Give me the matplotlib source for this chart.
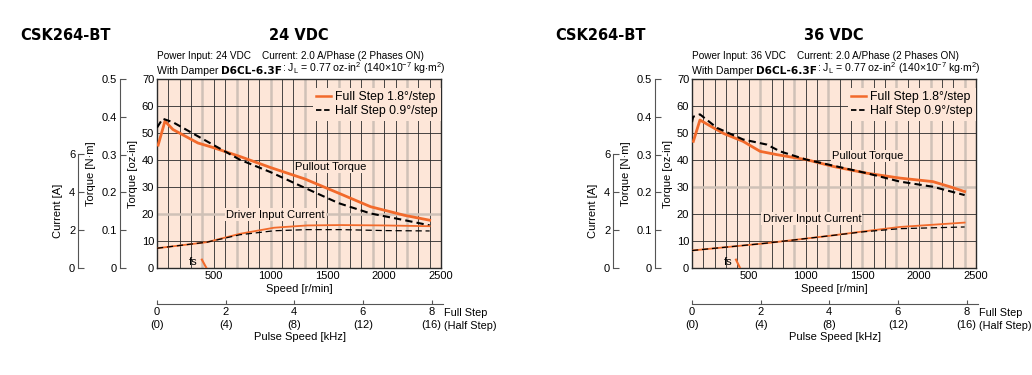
import numpy as np
import matplotlib
matplotlib.use('Agg')
import matplotlib.pyplot as plt
from matplotlib.lines import Line2D

plt.rcParams['font.family'] = ['Liberation Sans', 'DejaVu Sans']
plt.rcParams['mathtext.fontset'] = 'custom'
plt.rcParams['mathtext.rm'] = 'Liberation Sans'
plt.rcParams['font.size'] = 8

W, H = 1032, 375
ORANGE = '#f26a2b'
PEACH = '#fde6d8'
AXGREY = '#555555'
FS = 8  # base text size
PT = 0.72  # points per pixel at dpi 100

# ---- data ----
# 24 VDC, pullout torque [oz-in]
speed_full_24 = [10, 70, 140, 360, 480, 730, 1000, 1300, 1600, 1880, 2180, 2400]
torque_full_24 = [45.5, 54.4, 51.3, 46.3, 44.8, 41.3, 37.2, 33.0, 27.7, 22.7, 19.5, 17.7]
speed_half_24 = [0, 50, 140, 440, 730, 1000, 1300, 1600, 1880, 2180, 2400]
torque_half_24 = [52.0, 55.3, 54.0, 46.9, 40.1, 35.5, 29.7, 24.0, 20.2, 17.7, 15.8]
# 24 VDC, driver input current [A]
cur_speed_24 = [0, 440, 730, 1030, 1320, 1620, 2000, 2400]
cur_full_24 = [1.04, 1.36, 1.80, 2.12, 2.24, 2.26, 2.24, 2.20]
cur_half_24 = [1.04, 1.36, 1.75, 1.96, 2.02, 2.02, 1.97, 1.95]

# 36 VDC, pullout torque [oz-in]
speed_full_36 = [12, 70, 190, 280, 450, 600, 745, 1010, 1245, 1540, 1830, 2120, 2270, 2400]
torque_full_36 = [46.9, 54.8, 51.9, 49.8, 46.9, 43.2, 42.0, 40.1, 37.6, 35.1, 33.3, 32.0, 30.1, 28.3]
speed_half_36 = [0, 10, 70, 220, 450, 660, 775, 1010, 1540, 1830, 2120, 2400]
torque_half_36 = [54.0, 56.0, 56.9, 51.9, 47.6, 45.7, 43.2, 40.1, 35.1, 32.0, 30.1, 27.0]
# 36 VDC, driver input current [A]
cur_speed_36 = [0, 660, 1245, 1500, 1830, 2400]
cur_full_36 = [0.92, 1.31, 1.72, 1.92, 2.16, 2.39]
cur_half_36 = [0.92, 1.31, 1.72, 1.90, 2.07, 2.16]

# max starting frequency stub (fs)
fs_speed_24 = [395, 435]
fs_speed_36 = [387, 423]
fs_torque = [3.1, 0]

speed_ticks = [500, 1000, 1500, 2000, 2500]
torque_ticks = [0, 10, 20, 30, 40, 50, 60, 70]
nm_ticks = [0, 0.1, 0.2, 0.3, 0.4, 0.5]
nm_labels = ['0', '0.1', '0.2', '0.3', '0.4', '0.5']
cur_ticks = [0, 2, 4, 6]
khz_ticks = [0, 2, 4, 6, 8]
khz_labels = ['0\n(0)', '2\n(4)', '4\n(8)', '6\n(12)', '8\n(16)']


def fx(px):
    return px / W


def fy(py):
    return 1 - py / H


def side_axis(fig, rect, ylim, ticks, labels, label, offset_px):
    a = fig.add_axes(rect)
    a.patch.set_visible(False)
    for s in ['top', 'right', 'bottom']:
        a.spines[s].set_visible(False)
    a.spines['left'].set_color(AXGREY)
    a.spines['left'].set_position(('outward', offset_px * PT))
    a.set_xticks([])
    a.set_ylim(*ylim)
    a.set_yticks(ticks)
    a.set_yticklabels(labels)
    a.tick_params(axis='y', direction='in', length=4, color=AXGREY, pad=2, labelsize=FS)
    a.set_ylabel(label, fontsize=FS, labelpad=4)
    return a


def panel(fig, left, volt, sf, tf, sh, th, cs, cf, ch, fs_speed, grey_v, grey_h, pt_pos, dic_pos):
    ax = fig.add_axes([fx(left), fy(268), fx(284), 189 / H])
    ax.set_facecolor(PEACH)
    ax.set_xlim(0, 2500)
    ax.set_ylim(0, 70)

    for v in range(100, 2500, 100):
        if v in grey_v:
            ax.axvline(v, color='#cfc1b7', lw=1.8, zorder=1)
        else:
            ax.axvline(v, color='#2a2a2a', lw=0.6, zorder=1)
    for h in range(10, 70, 10):
        if h in grey_h:
            ax.axhline(h, color='#cfc1b7', lw=1.8, zorder=1)
        else:
            ax.axhline(h, color='#2a2a2a', lw=0.6, zorder=1)

    for s in ax.spines.values():
        s.set_color('#2a2a2a')
        s.set_linewidth(1.0)

    ax.set_xticks(speed_ticks)
    ax.set_yticks(torque_ticks)
    ax.tick_params(length=0, labelsize=FS, pad=2)
    ax.set_xlabel('Speed [r/min]', fontsize=FS, labelpad=2)
    ax.set_ylabel('Torque [oz-in]', fontsize=FS, labelpad=3)

    ax.plot(sf, tf, color=ORANGE, lw=2.0, zorder=4)
    ax.plot(sh, th, color='black', lw=1.5, ls=(0, (3.5, 2)), zorder=5)
    ax.plot(fs_speed, fs_torque, color=ORANGE, lw=1.5, zorder=4)
    ax.text(318, 2.4, 'fs', ha='center', va='center', fontsize=FS, zorder=6)

    bb = dict(boxstyle='square,pad=0.1', fc=PEACH, ec='none')
    ax.text(pt_pos[0], pt_pos[1], 'Pullout Torque', ha='center', va='center',
            fontsize=FS, bbox=bb, zorder=3)
    ax.text(dic_pos[0], dic_pos[1], 'Driver Input Current', ha='center', va='center',
            fontsize=FS, bbox=bb, zorder=3)

    handles = [Line2D([], [], color=ORANGE, lw=1.8),
               Line2D([], [], color='black', lw=1.3, ls=(0, (3, 1.5)))]
    leg = ax.legend(handles, ['Full Step 1.8°/step', 'Half Step 0.9°/step'],
                    loc='upper right', bbox_to_anchor=(1.0, 0.955), borderaxespad=0,
                    facecolor=PEACH, edgecolor='none', framealpha=1, fancybox=False,
                    handlelength=1.2, handletextpad=0.3, labelspacing=0.15,
                    borderpad=0.3, fontsize=8.8)
    leg.set_zorder(3)

    # torque N·m axis
    side_axis(fig, [fx(left), fy(268), fx(284), 189 / H], (0, 0.5), nm_ticks,
              nm_labels, 'Torque [N·m]', 37)

    # current axis and curves
    ca = side_axis(fig, [fx(left), fy(268), fx(284), 114 / H], (0, 6), cur_ticks,
                   [str(t) for t in cur_ticks], 'Current [A]', 79)
    ca.set_xlim(0, 2500)
    ca.plot(cs, cf, color=ORANGE, lw=1.3, zorder=4)
    ca.plot(cs, ch, color='black', lw=0.9, ls=(0, (5, 3)), zorder=5)

    # pulse speed axis
    pa = fig.add_axes([fx(left), fy(304), fx(286), 0.001])
    pa.patch.set_visible(False)
    for s in ['top', 'right', 'left']:
        pa.spines[s].set_visible(False)
    pa.spines['bottom'].set_color(AXGREY)
    pa.set_yticks([])
    pa.set_xlim(0, 2500 / 300)
    pa.set_xticks(khz_ticks)
    pa.set_xticklabels(khz_labels)
    for t in pa.get_xticklabels():
        t.set_linespacing(1.45)
    pa.tick_params(axis='x', direction='in', length=3, color=AXGREY, pad=2, labelsize=FS)
    pa.set_xlabel('Pulse Speed [kHz]', fontsize=FS, labelpad=1)
    fig.text(fx(left + 287), fy(319.5), 'Full Step\n(Half Step)', ha='left', va='center',
             fontsize=7.8, linespacing=1.45)

    # titles
    fig.text(fx(left - 137), fy(35), 'CSK264-BT', ha='left', va='center',
             fontsize=10.5, fontweight='bold', family='DejaVu Sans')
    fig.text(fx(left + 142), fy(35), volt + ' VDC', ha='center', va='center',
             fontsize=10.5, fontweight='bold', family='DejaVu Sans')
    fig.text(fx(left), fy(56), 'Power Input: ' + volt + ' VDC    Current: 2.0 A/Phase (2 Phases ON)',
             ha='left', va='center', fontsize=7.2)
    t1 = fig.text(fx(left), fy(71), 'With Damper ', ha='left', va='center', fontsize=7.6)
    t2 = ax.annotate('D6CL-6.3F', xycoords=t1, xy=(1, 0), va='bottom', ha='left',
                     fontsize=7.6, fontweight='bold', family='DejaVu Sans')
    ax.annotate(r': J$_{\mathrm{L}}$ = 0.77 oz-in$^{2}$ (140$\times$10$^{-7}$ kg$\cdot$m$^{2}$)',
                xycoords=t2, xy=(1, 0), va='bottom', ha='left', fontsize=7.6)
    return ax


fig = plt.figure(figsize=(W / 100, H / 100), dpi=100)
fig.patch.set_facecolor('white')

panel(fig, 157, '24', speed_full_24, torque_full_24, speed_half_24, torque_half_24,
      cur_speed_24, cur_full_24, cur_half_24, fs_speed_24,
      [400, 700, 1000, 1300, 1600, 1900, 2200], [20], (1530, 37.5), (1040, 19.8))
panel(fig, 692, '36', speed_full_36, torque_full_36, speed_half_36, torque_half_36,
      cur_speed_36, cur_full_36, cur_half_36, fs_speed_36,
      [600, 900, 1200, 1500, 1800, 2100, 2400], [30], (1545, 41.5), (1055, 18.3))

fig.savefig('out.png', dpi=100)
